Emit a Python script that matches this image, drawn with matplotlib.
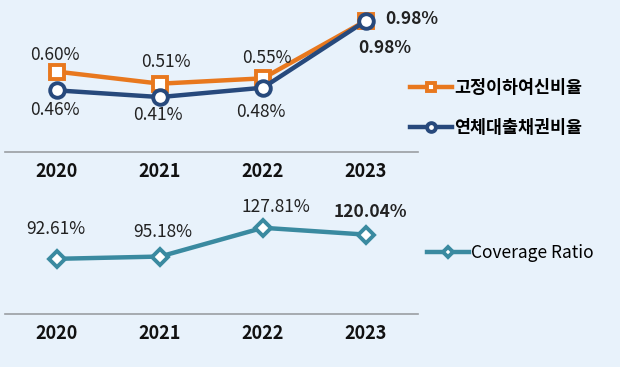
import matplotlib.pyplot as plt

plt.rcParams['font.family'] = ['Noto Sans CJK KR', 'DejaVu Sans']

years = ['2020', '2021', '2022', '2023']
npl_ratio = [0.60, 0.51, 0.55, 0.98]        # 고정이하여신비율
delinq_ratio = [0.46, 0.41, 0.48, 0.98]     # 연체대출채권비율
coverage = [92.61, 95.18, 127.81, 120.04]   # Coverage Ratio

bg = '#e8f2fb'
orange = '#e8781e'
navy = '#27497c'
teal = '#3a8aa0'

W, H = 620, 367
fig = plt.figure(figsize=(W / 100, H / 100), dpi=100, facecolor=bg)

def px_axes(left, top, right, bottom):
    return fig.add_axes([left / W, 1 - bottom / H, (right - left) / W, (bottom - top) / H])

x = list(range(len(years)))

ax1 = px_axes(5, 10, 418, 152)
ax2 = px_axes(5, 195, 418, 314)

for ax in (ax1, ax2):
    ax.set_facecolor(bg)
    ax.set_xlim(-0.505, 3.505)
    for s in ('top', 'left', 'right'):
        ax.spines[s].set_visible(False)
    ax.spines['bottom'].set_color('#9a9ea3')
    ax.spines['bottom'].set_linewidth(1.2)
    ax.set_yticks([])
    ax.set_xticks(x)
    ax.set_xticklabels(years, fontsize=13, fontweight='bold', color='#111111')
    ax.tick_params(axis='x', length=0, pad=7)

ax1.set_ylim(0, 1.06)
ax2.set_ylim(30, 165)

l1, = ax1.plot(x, npl_ratio, color=orange, lw=3.2, marker='s', ms=10,
               mfc='white', mec=orange, mew=2.8, label='고정이하여신비율', zorder=3)
l2, = ax1.plot(x, delinq_ratio, color=navy, lw=3.2, marker='o', ms=10.5,
               mfc='white', mec=navy, mew=2.8, label='연체대출채권비율', zorder=4)
l3, = ax2.plot(x, coverage, color=teal, lw=3.2, marker='D', ms=8.5,
               mfc='white', mec=teal, mew=2.8, label='Coverage Ratio', zorder=3)

lab_kw = dict(textcoords='offset pixels', fontsize=12.5, color='#222222', va='center')

npl_off = [(-2, 17), (6, 22), (4, 20), (19, 2)]
for i, v in enumerate(npl_ratio):
    bold = i == 3
    ax1.annotate(f'{v:.2f}%', (x[i], v), xytext=npl_off[i],
                 ha='left' if bold else 'center',
                 fontweight='bold' if bold else 'normal', **lab_kw)

del_off = [(-2, -20), (-2, -18), (-2, -24), (19, -27)]
for i, v in enumerate(delinq_ratio):
    bold = i == 3
    ax1.annotate(f'{v:.2f}%', (x[i], v), xytext=del_off[i], ha='center',
                 fontweight='bold' if bold else 'normal', **lab_kw)

cov_off = [(-1, 30), (3, 25), (13, 21), (4, 23)]
for i, v in enumerate(coverage):
    bold = i == 3
    ax2.annotate(f'{v:.2f}%', (x[i], v), xytext=cov_off[i], ha='center',
                 fontweight='bold' if bold else 'normal', **lab_kw)

fig.legend(handles=[l1, l2], loc='center left', bbox_to_anchor=(410 / W, 1 - 108 / H),
           frameon=False, borderpad=0, borderaxespad=0, handlelength=2.4,
           handletextpad=0.15, labelspacing=1.25, markerscale=0.6,
           prop={'size': 12.5, 'weight': 'bold'})
fig.legend(handles=[l3], loc='center left', bbox_to_anchor=(427 / W, 1 - 253 / H),
           frameon=False, borderpad=0, borderaxespad=0, handlelength=2.4,
           handletextpad=0.15, markerscale=0.6, prop={'size': 12.5})

fig.savefig('out.png', dpi=100, facecolor=bg)
